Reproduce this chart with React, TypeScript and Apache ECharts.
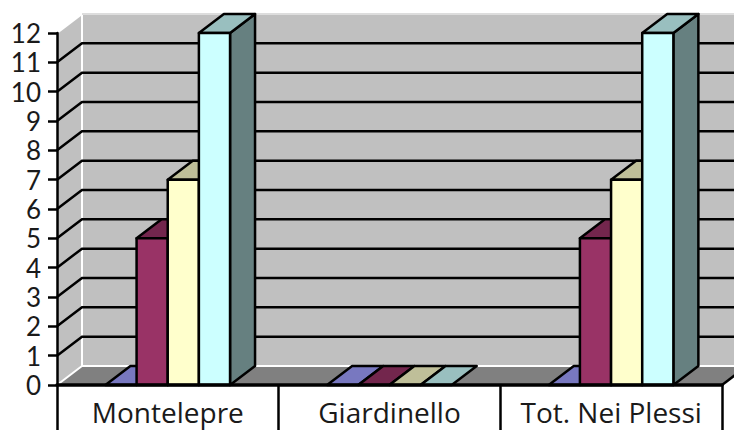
import React, { useEffect, useRef } from "react";
import * as echarts from "echarts";

const categories = ["Montelepre", "Giardinello", "Tot. Nei Plessi"];
const seriesA = [0, 0, 0];
const seriesB = [5, 0, 5];
const seriesC = [7, 0, 7];
const seriesD = [12, 0, 12];
const yTicks = [0, 1, 2, 3, 4, 5, 6, 7, 8, 9, 10, 11, 12];

const seriesValues = [seriesA, seriesB, seriesC, seriesD];
const fronts = ["#9999FF", "#993366", "#FFFFCC", "#CCFFFF"];
const tops = ["#7878C0", "#73264D", "#BFBF99", "#99BFBF"];
const sides = ["#666699", "#4D1A33", "#808066", "#668080"];

const DX = 25;
const DY = -19;
const BAR_FRAC = 31.2 / 222;
const START_FRAC = 48.5 / 222;
const STROKE = "#000";
const LINE = 2.5;

function App() {
  const ref = useRef<HTMLDivElement>(null);
  useEffect(() => {
    const chart = echarts.init(ref.current!, null, { renderer: "svg" });

    const wallsSeries = {
      type: "custom",
      z: 1,
      silent: true,
      data: [[0]],
      renderItem: (params: any, api: any) => {
        const c = params.coordSys;
        const x0 = c.x;
        const x1 = c.x + c.width;
        const y0 = api.coord([0, 0])[1];
        const y1 = api.coord([0, 12])[1];
        const poly = (points: number[][], fill: string) => ({
          type: "polygon",
          shape: { points },
          style: { fill, stroke: "none" },
        });
        return {
          type: "group",
          children: [
            poly([[x0 + DX, y1 + DY], [x1 + DX, y1 + DY], [x1 + DX, y0 + DY], [x0 + DX, y0 + DY]], "#C0C0C0"),
            poly([[x0, y1], [x0 + DX, y1 + DY], [x0 + DX, y0 + DY], [x0, y0]], "#C0C0C0"),
            poly([[x0, y0], [x0 + DX, y0 + DY], [x1 + DX, y0 + DY], [x1, y0]], "#808080"),
            { type: "line", shape: { x1: x0 + DX, y1: y1 + DY, x2: x0 + DX, y2: y0 + DY }, style: { stroke: "#fff", lineWidth: 2 } },
            { type: "line", shape: { x1: x0, y1: y1, x2: x0 + DX, y2: y1 + DY }, style: { stroke: "#fff", lineWidth: 2 } },
            { type: "line", shape: { x1: x0 + DX, y1: y1 + DY, x2: x1 + DX, y2: y1 + DY }, style: { stroke: "#ddd", lineWidth: 2 } },
            { type: "line", shape: { x1: x0, y1: y0, x2: x0 + DX, y2: y0 + DY }, style: { stroke: "#fff", lineWidth: 2 } },
            { type: "line", shape: { x1: x0 + DX, y1: y0 + DY, x2: x1 + DX, y2: y0 + DY }, style: { stroke: "#fff", lineWidth: 2 } },
            { type: "line", shape: { x1: x1, y1: y0, x2: x1 + DX, y2: y0 + DY }, style: { stroke: STROKE, lineWidth: LINE } },
          ],
        };
      },
    };

    const gridSeries = {
      type: "custom",
      z: 2,
      silent: true,
      data: yTicks.slice(1, -1).map((v) => [0, v]),
      renderItem: (params: any, api: any) => {
        const c = params.coordSys;
        const y = api.coord([0, api.value(1)])[1];
        return {
          type: "polyline",
          shape: {
            points: [
              [c.x, y],
              [c.x + DX, y + DY],
              [c.x + c.width + DX, y + DY],
            ],
          },
          style: { stroke: STROKE, lineWidth: LINE, fill: "none" },
        };
      },
    };

    const barSeries = seriesValues.map((values, idx) => ({
      type: "custom",
      z: 3 + idx,
      silent: true,
      data: values.map((v, i) => [i, v]),
      renderItem: (params: any, api: any) => {
        const catIndex = api.value(0);
        const val = api.value(1);
        const band = api.size([1, 0])[0];
        const center = api.coord([catIndex, 0]);
        const top = api.coord([catIndex, val])[1];
        const base = center[1];
        const left = center[0] - band / 2 + band * (START_FRAC + BAR_FRAC * idx);
        const right = left + band * BAR_FRAC;
        const style = (fill: string) => ({ fill, stroke: STROKE, lineWidth: LINE, lineJoin: "round" });
        const children: any[] = [];
        if (val > 0) {
          children.push({
            type: "polygon",
            shape: { points: [[right, top], [right + DX, top + DY], [right + DX, base + DY], [right, base]] },
            style: style(sides[idx]),
          });
        }
        children.push({
          type: "polygon",
          shape: { points: [[left, top], [left + DX, top + DY], [right + DX, top + DY], [right, top]] },
          style: style(tops[idx]),
        });
        if (val > 0) {
          children.push({
            type: "polygon",
            shape: { points: [[left, top], [right, top], [right, base], [left, base]] },
            style: style(fronts[idx]),
          });
        }
        return { type: "group", children };
      },
    }));

    chart.setOption({
      animation: false,
      backgroundColor: "#fff",
      grid: { left: 57, top: 33, width: 665, height: 352 },
      xAxis: {
        type: "category",
        data: categories,
        z: 10,
        axisLine: { show: true, lineStyle: { color: "#000", width: 3.5 } },
        axisTick: { show: true, length: 46, alignWithLabel: false, lineStyle: { color: "#000", width: 2.5 } },
        axisLabel: { color: "#1a1a1a", fontFamily: "Open Sans", fontSize: 28, lineHeight: 26, margin: 14, interval: 0 },
        splitLine: { show: false },
      },
      yAxis: {
        type: "value",
        min: 0,
        max: 12,
        interval: 1,
        z: 10,
        axisLine: { show: true, lineStyle: { color: "#000", width: 2.5 } },
        axisTick: { show: true, length: 9, lineStyle: { color: "#000", width: 2.5 } },
        axisLabel: { color: "#1a1a1a", fontFamily: "Lato", fontSize: 26, lineHeight: 24, margin: 16 },
        splitLine: { show: false },
      },
      series: [wallsSeries, gridSeries, ...barSeries],
    });
    return () => chart.dispose();
  }, []);
  return <div ref={ref} style={{ position: "absolute", left: 0, top: 0, width: 734, height: 430 }} />;
}

export default App;
